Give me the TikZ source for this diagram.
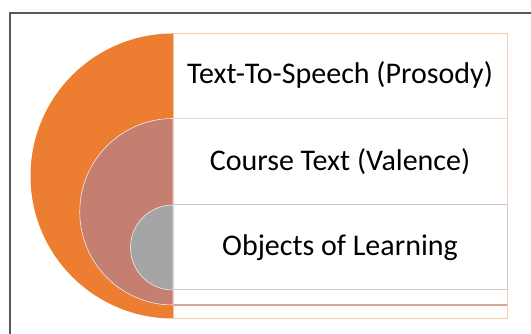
\documentclass[tikz,border=0pt]{standalone}
\usepackage{fontspec}
\setmainfont{Carlito}
\definecolor{cOrange}{HTML}{ED7D31}
\definecolor{cRose}{HTML}{C47F70}
\definecolor{cGray}{HTML}{A5A5A5}
\definecolor{lOrange}{HTML}{F8CBAD}
\definecolor{lRose}{HTML}{F2D3CB}
\definecolor{dRose}{HTML}{D9A596}
\definecolor{lGray}{HTML}{C8C8C8}
\definecolor{frameC}{HTML}{595959}
\begin{document}
\begin{tikzpicture}[x=1pt,y=-1pt,
  lbl/.style={font=\fontsize{30}{32}\selectfont, text=black, anchor=center},
  ring/.style={draw=white!85!gray, line width=0.6pt}]
\useasboundingbox (0,0) rectangle (531,334);
\fill[white] (0,0) rectangle (531,334);
% frame
\draw[frameC, line width=1.2pt] (10,340) -- (10,13) -- (540,13);
% rectangles
\draw[lOrange, line width=1pt] (173,33.5) rectangle (507,318.5);
\draw[lRose, line width=1pt] (173,118.5) -- (507,118.5);
\draw[dRose, line width=1.2pt] (173,305) -- (507,305);
\draw[lGray, line width=1pt] (173,205) rectangle (507,290);
% semicircles
\fill[cOrange] (173,33.5) arc[start angle=270,end angle=90,radius=142.5] -- cycle;
\filldraw[fill=cRose, ring] (173,118.5) arc[start angle=270,end angle=90,radius=93.25] -- cycle;
\filldraw[fill=cGray, ring] (173,205) arc[start angle=270,end angle=90,radius=42.5] -- cycle;
\fill[cOrange] (172.3,33.5) rectangle (173.3,118.5);
% labels
\node[lbl] (tts) at (340,75) {Text-To-Speech (Prosody)};
\node[lbl] (ct) at (340,162) {Course Text (Valence)};
\node[lbl] (ol) at (340,248) {Objects of Learning};
\end{tikzpicture}
\end{document}
